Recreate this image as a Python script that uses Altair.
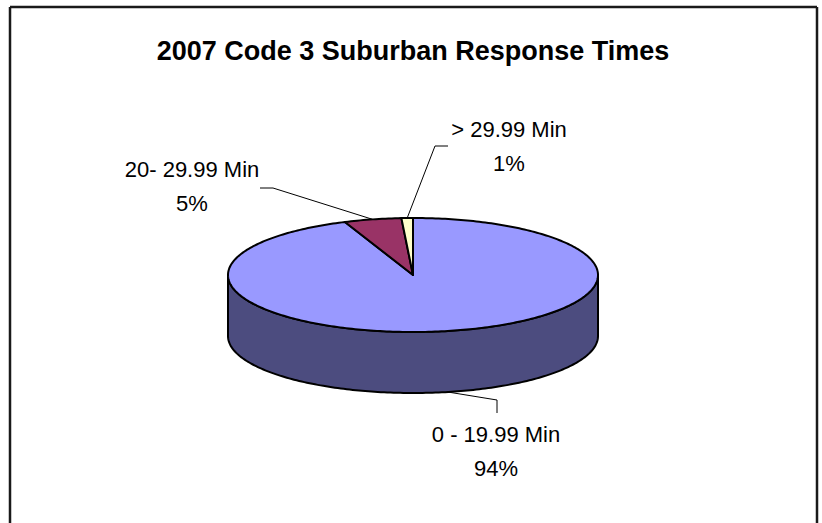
import math
import altair as alt

# ---- chart content -------------------------------------------------------
title_text = "2007 Code 3 Suburban Response Times"
categories = ["0 - 19.99 Min", "20- 29.99 Min", "> 29.99 Min"]
shares = [94, 5, 1]
top_colors = ["#9999FF", "#993366", "#FFFFCC"]
side_colors = ["#4C4C7F", "#4D1A33", "#808066"]

# ---- layout (canvas pixels, identity projection) -------------------------
CX, CY = 413, 275      # centre of the pie's top face
RX, RY = 185, 57       # radii of the tilted top face
DEPTH = 61             # thickness of the pie

# centre of the first line of each two-line label
label_centres = [(496, 435), (192, 170), (509, 130)]
leader_elbows = [
    [(497, 413), (497, 400)],
    [(260, 188), (273, 188)],
    [(448, 146), (435, 146)],
]


def point(theta, dy=0.0):
    """Point on the tilted rim; theta in degrees clockwise from 12 o'clock."""
    t = math.radians(theta)
    return [CX + RX * math.sin(t), CY - RY * math.cos(t) + dy]


def arc(a0, a1, dy=0.0, step=1.0):
    n = max(2, int(abs(a1 - a0) / step) + 1)
    return [point(a0 + (a1 - a0) * i / (n - 1), dy) for i in range(n)]


def feature(coords, kind, fill, name):
    return {
        "type": "Feature",
        "geometry": {"type": kind, "coordinates": coords},
        "properties": {"fill": fill, "name": name},
    }


total = float(sum(shares))
bounds = []
start = 0.0
for v in shares:
    end = start + 360.0 * v / total
    bounds.append((start, end))
    start = end

# side walls (only the front half is visible), then the top faces
sides, tops, leaders, labels = [], [], [], []
for (a0, a1), name, ctop, cside in zip(bounds, categories, top_colors, side_colors):
    lo, hi = max(a0, 90.0), min(a1, 270.0)
    if lo < hi:
        ring = arc(lo, hi) + arc(hi, lo, DEPTH)
        ring.append(ring[0])
        sides.append(feature([ring], "Polygon", cside, name))
    ring = [[CX, CY]] + arc(a0, a1) + [[CX, CY]]
    tops.append(feature([ring], "Polygon", ctop, name))

for (a0, a1), name, v, centre, elbow in zip(bounds, categories, shares,
                                            label_centres, leader_elbows):
    mid = (a0 + a1) / 2.0
    front = math.cos(math.radians(mid)) < 0
    target = point(mid, DEPTH if front else 0.0)
    leaders.append(feature([list(p) for p in elbow] + [target],
                           "LineString", "none", name))
    labels.append({"lon": centre[0], "lat": centre[1], "text": f"{name}\n{v}%"})

proj = dict(type="identity", scale=1, translate=[0, 0])

faces = alt.Chart(alt.Data(values=sides + tops)).mark_geoshape(
    stroke="black", strokeWidth=2, strokeJoin="round"
).encode(
    fill=alt.Fill("properties.fill:N", scale=None)
).project(**proj)

leader_lines = alt.Chart(alt.Data(values=leaders)).mark_geoshape(
    filled=False, stroke="black", strokeWidth=1
).project(**proj)

label_text = alt.Chart(alt.Data(values=labels)).mark_text(
    font="Liberation Sans", fontSize=22, lineBreak="\n", lineHeight=34,
    align="center", baseline="middle", color="black"
).encode(
    longitude="lon:Q", latitude="lat:Q", text="text:N"
).project(**proj)

one = alt.Data(values=[{}])
title = alt.Chart(one).mark_text(
    font="Liberation Sans", fontSize=27, fontWeight="bold",
    align="center", baseline="middle", color="black"
).encode(x=alt.value(413), y=alt.value(52), text=alt.value(title_text))

frame_style = dict(color="#1a1a1a", strokeWidth=2.5)
frame_left = alt.Chart(one).mark_rule(**frame_style).encode(
    x=alt.value(10), y=alt.value(7), y2=alt.value(523))
frame_right = alt.Chart(one).mark_rule(**frame_style).encode(
    x=alt.value(817), y=alt.value(7), y2=alt.value(523))
frame_top = alt.Chart(one).mark_rule(**frame_style).encode(
    x=alt.value(10), x2=alt.value(817), y=alt.value(7))

chart = alt.layer(
    faces, leader_lines, label_text, title, frame_left, frame_right, frame_top
).properties(
    width=822, height=523, padding=0, autosize="none", background="white"
).configure_view(stroke=None)

chart.save("out.html", embed_options={"renderer": "svg", "actions": False})
